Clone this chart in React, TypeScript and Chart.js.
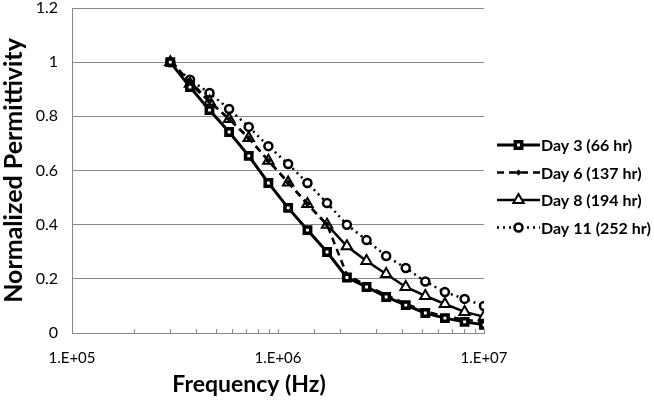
import React, { useEffect, useRef } from 'react';
import { Chart, registerables } from 'chart.js';
import { drawPoint } from 'chart.js/helpers';

Chart.register(...registerables);

const frequencies = [3.0e5, 3.74e5, 4.65e5, 5.79e5, 7.21e5, 8.98e5, 1.12e6, 1.39e6, 1.73e6, 2.16e6, 2.69e6, 3.35e6, 4.17e6, 5.19e6, 6.46e6, 8.05e6, 1.0e7];
const day3 = [1.0, 0.908, 0.823, 0.742, 0.654, 0.554, 0.462, 0.38, 0.299, 0.205, 0.17, 0.133, 0.103, 0.074, 0.055, 0.041, 0.03];
const day6 = [1.0, 0.93, 0.855, 0.79, 0.72, 0.636, 0.556, 0.476, 0.4, 0.215, 0.175, 0.14, 0.108, 0.08, 0.062, 0.05, 0.04];
const day8 = [1.0, 0.92, 0.855, 0.79, 0.72, 0.636, 0.556, 0.476, 0.4, 0.32, 0.266, 0.218, 0.17, 0.137, 0.107, 0.078, 0.06];
const day11 = [1.0, 0.935, 0.886, 0.827, 0.761, 0.69, 0.624, 0.554, 0.48, 0.4, 0.343, 0.284, 0.24, 0.19, 0.151, 0.126, 0.1];
const seriesLabels = ['Day 3 (66 hr)', 'Day 6 (137 hr)', 'Day 8 (194 hr)', 'Day 11 (252 hr)'];
const xTitle = 'Frequency (Hz)';
const yTitle = 'Normalized Permittivity';
const xMin = 1e5;
const xMax = 1e7;
const yMin = 0;
const yMax = 1.2;
const yStep = 0.2;

const FONT = 'Lato, "Liberation Sans", Arial, sans-serif';

const toPoints = (vals: number[]) => frequencies.map((f, i) => ({ x: f, y: vals[i] }));

const extrasPlugin = {
  id: 'extras',
  afterDraw(chart: any) {
    const ctx = chart.ctx;
    const xs = chart.scales.x;
    const area = chart.chartArea;
    ctx.save();
    // minor tick marks (inside, upward)
    ctx.strokeStyle = '#8a8a8a';
    ctx.lineWidth = 1;
    ctx.setLineDash([]);
    xs.ticks.forEach((t: any) => {
      const px = Math.round(xs.getPixelForValue(t.value)) + 0.5;
      ctx.beginPath();
      ctx.moveTo(px, area.bottom);
      ctx.lineTo(px, area.bottom - 4);
      ctx.stroke();
    });
    // axis titles
    ctx.fillStyle = '#000';
    ctx.textAlign = 'center';
    ctx.textBaseline = 'middle';
    ctx.font = `bold 23px ${FONT}`;
    ctx.fillText(xTitle, 249, 385);
    ctx.save();
    ctx.font = `bold 25px ${FONT}`;
    ctx.translate(14, (area.top + area.bottom) / 2);
    ctx.rotate(-Math.PI / 2);
    ctx.fillText(yTitle, 0, 0);
    ctx.restore();
    // legend
    const x0 = 497;
    const x1 = 540;
    chart.data.datasets.forEach((ds: any, i: number) => {
      const y = 145 + i * 27.5;
      ctx.strokeStyle = '#000';
      ctx.lineWidth = ds.borderWidth;
      ctx.setLineDash(ds.borderDash || []);
      ctx.beginPath();
      ctx.moveTo(x0, y);
      ctx.lineTo(x1, y);
      ctx.stroke();
      ctx.setLineDash([]);
      ctx.fillStyle = ds.pointBackgroundColor;
      ctx.strokeStyle = '#000';
      ctx.lineWidth = ds.pointBorderWidth;
      drawPoint(ctx, { pointStyle: ds.pointStyle, radius: ds.pointRadius, borderWidth: ds.pointBorderWidth, rotation: 0 } as any, (x0 + x1) / 2, y);
      ctx.fillStyle = '#000';
      ctx.font = `bold 16px ${FONT}`;
      ctx.textAlign = 'left';
      ctx.textBaseline = 'middle';
      ctx.fillText(ds.label, x1 + 1, y + 1);
    });
    ctx.restore();
  },
};

export default function App() {
  const ref = useRef<HTMLCanvasElement | null>(null);
  useEffect(() => {
    document.body.style.margin = '0';
    const canvas = ref.current;
    if (!canvas) return;
    const chart = new Chart(canvas, {
      type: 'line',
      data: {
        datasets: [
          {
            label: seriesLabels[0],
            data: toPoints(day3),
            borderColor: '#000',
            borderWidth: 3,
            pointStyle: 'rect',
            pointRadius: 4.5,
            pointBorderWidth: 3.5,
            pointBackgroundColor: '#fff',
            pointBorderColor: '#000',
            borderDash: [],
          },
          {
            label: seriesLabels[1],
            data: toPoints(day6),
            borderColor: '#000',
            borderWidth: 2.5,
            borderDash: [7, 5],
            pointStyle: 'rectRot',
            pointRadius: 2.6,
            pointBorderWidth: 1,
            pointBackgroundColor: '#000',
            pointBorderColor: '#000',
          },
          {
            label: seriesLabels[2],
            data: toPoints(day8),
            borderColor: '#000',
            borderWidth: 2.5,
            borderDash: [],
            segment: {
              borderDash: (c: any) => (c.p1DataIndex <= 8 ? [7, 5] : undefined),
            },
            pointStyle: 'triangle',
            pointRadius: 6,
            pointBorderWidth: 2,
            pointBackgroundColor: '#fff',
            pointBorderColor: '#000',
          },
          {
            label: seriesLabels[3],
            data: toPoints(day11),
            borderColor: '#000',
            borderWidth: 2.5,
            borderDash: [2, 4],
            pointStyle: 'circle',
            pointRadius: 4,
            pointBorderWidth: 2.5,
            pointBackgroundColor: '#fff',
            pointBorderColor: '#000',
          },
        ] as any,
      },
      options: {
        responsive: false,
        animation: false,
        devicePixelRatio: 1,
        layout: { padding: { left: 0, right: 170, top: 8, bottom: 0 } },
        plugins: { legend: { display: false }, tooltip: { enabled: false } },
        scales: {
          x: {
            type: 'logarithmic',
            min: xMin,
            max: xMax,
            grid: { display: false },
            border: { display: true, color: '#8a8a8a', width: 1 },
            ticks: {
              autoSkip: false,
              maxRotation: 0,
              minRotation: 0,
              padding: 8,
              color: '#000',
              font: { family: FONT, size: 15 },
              callback: (v: any) => {
                const l = Math.log10(Number(v));
                const r = Math.round(l);
                return Math.abs(l - r) < 1e-9 ? `1.E+${String(r).padStart(2, '0')}` : '';
              },
            },
            afterFit: (s: any) => {
              s.height = 73;
            },
          },
          y: {
            type: 'linear',
            min: yMin,
            max: yMax,
            grid: { color: '#8a8a8a', lineWidth: 1, drawTicks: false },
            border: { display: true, color: '#8a8a8a', width: 1 },
            ticks: {
              stepSize: yStep,
              padding: 14,
              color: '#000',
              font: { family: FONT, size: 16 },
              callback: (v: any) => String(Math.round(Number(v) * 10) / 10),
            },
            afterFit: (s: any) => {
              s.width = 72;
              s.paddingTop = 0;
              s.paddingBottom = 0;
            },
          },
        },
      } as any,
      plugins: [extrasPlugin],
    });
    return () => chart.destroy();
  }, []);
  return (
    <div style={{ width: 654, height: 406, background: '#fff' }}>
      <canvas ref={ref} width={654} height={406} style={{ display: 'block' }} />
    </div>
  );
}
